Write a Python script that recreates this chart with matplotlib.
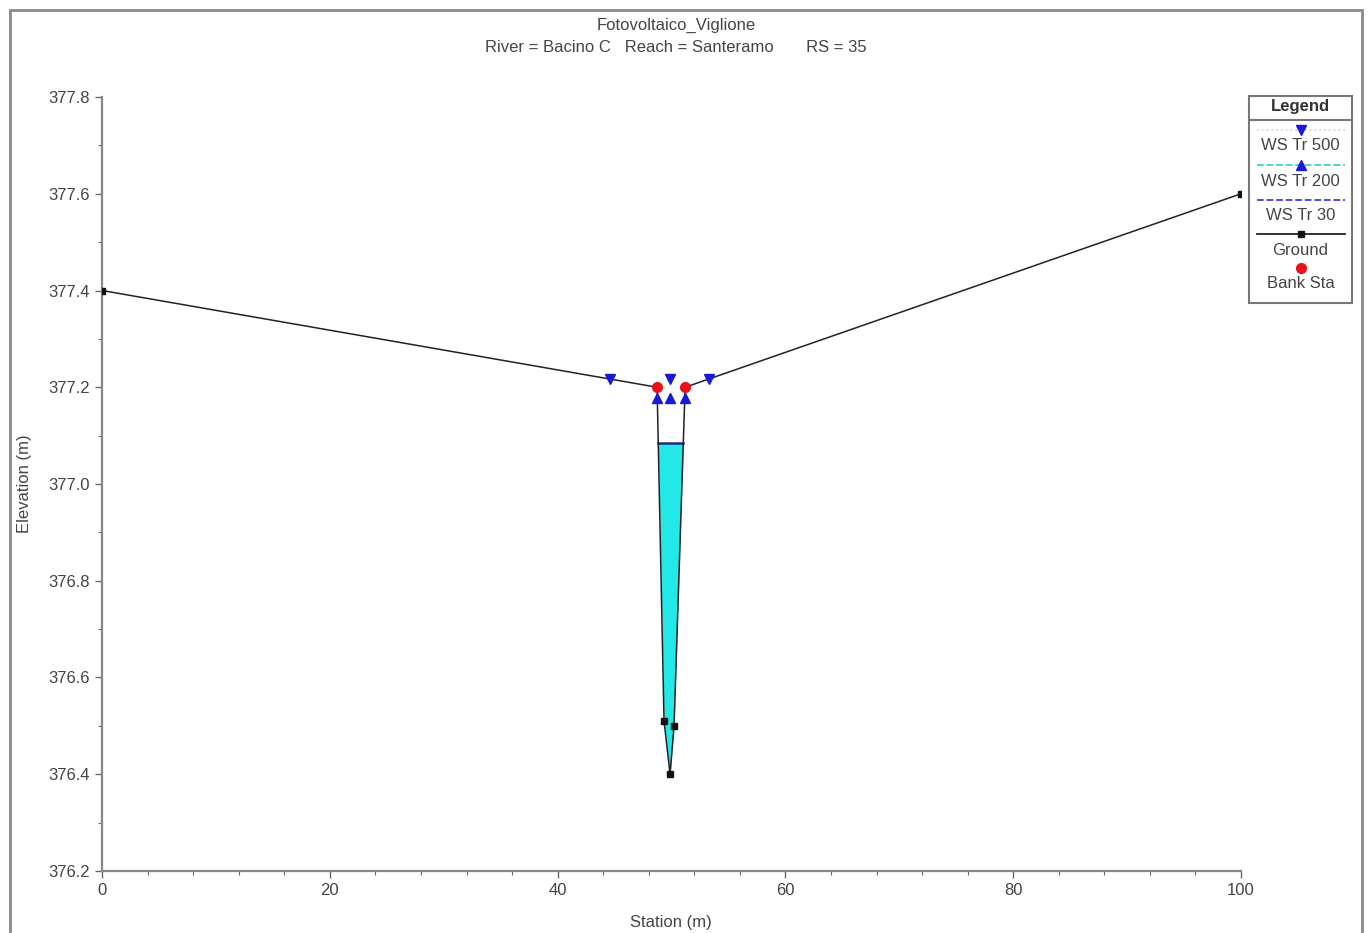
import numpy as np
import matplotlib
matplotlib.use('Agg')
import matplotlib.pyplot as plt
from matplotlib.patches import Rectangle
from matplotlib.ticker import MultipleLocator

plt.rcParams.update({
    'font.family': ['Liberation Sans', 'DejaVu Sans'],
    'font.size': 12,
    'text.color': '#444444',
    'xtick.color': '#666666',
    'ytick.color': '#666666',
    'xtick.labelcolor': '#444444',
    'ytick.labelcolor': '#444444',
})

# ground profile (station, elevation)
ground_sta  = [0.0, 48.73, 49.34, 49.87, 50.22, 51.19, 100.0]
ground_elev = [377.40, 377.20, 376.51, 376.40, 376.50, 377.20, 377.60]

bank_sta  = [48.73, 51.19]
bank_elev = [377.20, 377.20]

# water surfaces
ws500_sta  = [44.6, 49.9, 53.3]
ws500_elev = 377.217
ws200_sta  = [48.75, 49.9, 51.17]
ws200_elev = 377.178
ws30_sta   = [48.83, 51.03]
ws30_elev  = 377.085

C_BLUE = '#1a1ad6'
C_CYAN = '#22e8e8'

fig = plt.figure(figsize=(13.68, 9.33), dpi=100)
ax = fig.add_axes([0.0746, 0.0665, 0.8326, 0.8295])

# outer frame
fig.patches.append(Rectangle((10 / 1368, -0.05), 1352 / 1368, 1.05 - 10 / 933,
                             transform=fig.transFigure, fill=False,
                             ec='#8a8a8a', lw=2.0))

# WS Tr 30 fill
gs = np.array(ground_sta)
ge = np.array(ground_elev)
ax.fill_between(gs, ge, ws30_elev, where=ge < ws30_elev, interpolate=True,
                color=C_CYAN, lw=0, zorder=1)
ax.plot(ws30_sta, [ws30_elev] * 2, color='#1a2a80', lw=1.8, zorder=2)

# ground
ax.plot(ground_sta, ground_elev, color='#222222', lw=1.1, zorder=3)
ax.plot(ground_sta, ground_elev, ls='none', marker='s', ms=4,
        color='#111111', zorder=4)

# WS markers
ax.plot(ws500_sta, [ws500_elev] * 3, ls='none', marker='v', ms=7,
        color=C_BLUE, zorder=5)
ax.plot(ws200_sta, [ws200_elev] * 3, ls='none', marker='^', ms=7,
        color=C_BLUE, zorder=5)

# bank stations
ax.plot(bank_sta, bank_elev, ls='none', marker='o', ms=7,
        color='#e8101a', zorder=6)

ax.set_xlim(0, 100)
ax.set_ylim(376.2, 377.8)
ax.xaxis.set_major_locator(MultipleLocator(20))
ax.xaxis.set_minor_locator(MultipleLocator(4))
ax.yaxis.set_major_locator(MultipleLocator(0.2))
ax.yaxis.set_minor_locator(MultipleLocator(0.1))
ax.yaxis.set_major_formatter(matplotlib.ticker.FormatStrFormatter('%.1f'))
ax.tick_params(which='major', length=5, width=1.0, labelsize=12)
ax.tick_params(which='minor', length=3, width=0.8)
for s in ['top', 'right']:
    ax.spines[s].set_visible(False)
for s in ['left', 'bottom']:
    ax.spines[s].set_color('#888888')
    ax.spines[s].set_linewidth(1.6)

fig.text(0.494, 1 - 25 / 933, 'Fotovoltaico_Viglione', ha='center', va='center', fontsize=12)
fig.text(0.494, 1 - 48 / 933, 'River = Bacino C   Reach = Santeramo       RS = 35',
         ha='center', va='center', fontsize=12)
fig.text(25 / 1368, 1 - 484 / 933, 'Elevation (m)', rotation=90,
         ha='center', va='center', fontsize=12)
fig.text(671 / 1368, 1 - 923 / 933, 'Station (m)', ha='center', va='center', fontsize=12)

# legend box
lx0, lx1 = 1249 / 1368, 1352 / 1368
ly_top, ly_bot = 1 - 96 / 933, 1 - 303 / 933
fig.patches.append(Rectangle((lx0, ly_bot), lx1 - lx0, ly_top - ly_bot,
                             transform=fig.transFigure, fill=True, fc='white',
                             ec='#777777', lw=1.5, zorder=10))
fig.lines.append(plt.Line2D([lx0, lx1], [1 - 120 / 933] * 2,
                            transform=fig.transFigure, color='#777777', lw=1.5, zorder=11))
fig.text((lx0 + lx1) / 2, 1 - 107 / 933, 'Legend', ha='center', va='center',
         fontsize=12, fontweight='bold', color='#333333', zorder=12)

xm = (lx0 + lx1) / 2
la, lb = 1257 / 1368, 1345 / 1368
entries = [
    ('WS Tr 500', 130, '#d8d8c8', 'v', C_BLUE, ':'),
    ('WS Tr 200', 165, '#40d0d0', '^', C_BLUE, '--'),
    ('WS Tr 30', 200, '#4040d0', None, None, '--'),
    ('Ground', 234, '#222222', 's', '#111111', '-'),
    ('Bank Sta', 268, None, 'o', '#e8101a', '-'),
]
for label, yp, lc, mk, mc, lsty in entries:
    yf = 1 - yp / 933
    if lc is not None:
        fig.lines.append(plt.Line2D([la, lb], [yf, yf], transform=fig.transFigure,
                                    color=lc, lw=1.3, ls=lsty, zorder=11))
    if mk is not None:
        fig.lines.append(plt.Line2D([xm], [yf], transform=fig.transFigure,
                                    marker=mk, ms=7 if mk != 's' else 4, color=mc,
                                    ls='none', zorder=12))
    fig.text(xm, 1 - (yp + 16) / 933, label, ha='center', va='center',
             fontsize=12, zorder=12)

fig.savefig('out.png', dpi=100, facecolor='white')
plt.close(fig)
